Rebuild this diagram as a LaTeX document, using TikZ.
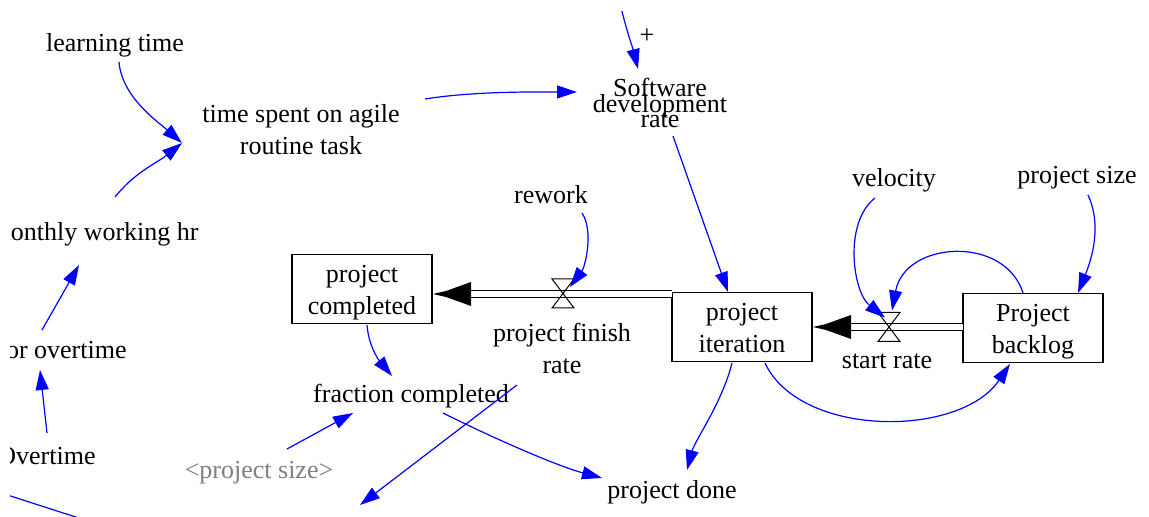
\documentclass[tikz,border=0pt]{standalone}
\usepackage{fontspec}
\setmainfont{Liberation Serif}
\usetikzlibrary{arrows.meta}
\definecolor{lk}{RGB}{0,0,255}
\definecolor{gr}{RGB}{128,128,128}
\newcommand\stkTop{\rule{0pt}{12.5pt}}
\newcommand\stkBot{\rule[-3pt]{0pt}{3pt}}
\begin{document}
\begin{tikzpicture}[x=0.5pt,y=-0.5pt,
  every node/.style={font=\fontsize{13}{16}\selectfont, inner sep=1pt, align=center},
  stock/.style={draw, line width=0.75pt, minimum width=70pt, minimum height=34.5pt},
  link/.style={draw=lk, line width=0.6pt, -{Triangle[length=10pt,width=6.5pt]}},
  plainlink/.style={draw=lk, line width=0.6pt},
  pipe/.style={draw=black, line width=0.65pt, double=white, double distance=2.7pt},
  flowhead/.style={fill=black},
  valve/.style={draw=black, line width=0.5pt}]
\useasboundingbox (0,0) rectangle (1149,517);
\clip (10,12) rectangle (1149,517);

% nodes
\node (lt) at (115,45) {learning time};
\node (ts) at (301,130) {time spent on agile\\routine task};
\node[anchor=east] (mw) at (201,234) {monthly working hr};
\node[anchor=east] (fo) at (129,349) {for overtime};
\node[anchor=east] (ov) at (98,456) {Overtime};
\node (sdr) at (660,103) {Software\\[-8.25pt]development\\[-8.25pt]rate};
\node (plus) at (647,36) {+};
\node (rw) at (551,195) {rework};
\node (vel) at (894,180) {velocity};
\node (ps) at (1077,178) {project size};
\node[stock] (pc) at (362,289) {\stkTop project\\completed\stkBot};
\node[stock] (pi) at (742,327) {\stkTop project\\iteration\stkBot};
\node[stock] (pb) at (1033,328) {\stkTop Project\\backlog\stkBot};
\node (pfr) at (562,348) {project finish\\rate};
\node (sr) at (887,361) {start rate};
\node (fc) at (411,396) {fraction completed};
\node (pd) at (672,492) {project done};
\node[text=gr] (pss) at (259,473) {<project size>};

\coordinate (v1) at (563,294);
\coordinate (v2) at (889,327.5);
\coordinate (topsrc) at (619,-2);
\coordinate (offb) at (360,505);
\coordinate (bl1) at (-5,491);
\coordinate (bl2) at (85,520);

% flows
\draw[pipe] ([shift={(-70,-33)}]pi.center) -- ([shift={(106,5)}]pc.center);
\fill[flowhead] ([shift={(71,5)}]pc.center) -- ++(13,-3) -- ++(25,-9) -- ++(0,24) -- ++(-25,-9) -- cycle;
\draw[valve] ([shift={(-11,-15)}]v1) -- ++(22,0) -- ([shift={(-11,14)}]v1) -- ++(22,0) -- cycle;

\draw[pipe] ([shift={(-70,-1)}]pb.center) -- ([shift={(108,0)}]pi.center);
\fill[flowhead] ([shift={(71,0)}]pi.center) -- ++(13,-3) -- ++(25,-9) -- ++(0,24) -- ++(-25,-9) -- cycle;
\draw[valve] ([shift={(-11,-15)}]v2) -- ++(22,0) -- ([shift={(-11,14)}]v2) -- ++(22,0) -- cycle;

% links
\draw[link] ([shift={(4,17)}]lt.center) .. controls +(3,35) and +(-25,-22) .. ([shift={(-119,13)}]ts.center);
\draw[link] ([shift={(-86,-37)}]mw.east) .. controls +(20,-25) and +(-25,20) .. ([shift={(-119,13)}]ts.center);
\draw[link] ([shift={(-87,-19)}]fo.east) -- ([shift={(-122,31)}]mw.east);
\draw[link] ([shift={(-51,-23)}]ov.east) -- ([shift={(-89,21)}]fo.east);
\draw[link] ([shift={(124,-31)}]ts.center) .. controls +(50,-8) and +(-40,0) .. ([shift={(-83,-11)}]sdr.center);
\draw[link] (topsrc) .. controls +(5,25) and +(-5,-20) .. ([shift={(-22,-34)}]sdr.center);
\draw[link] ([shift={(13,33)}]sdr.center) -- ([shift={(-14,-35)}]pi.center);
\draw[link] ([shift={(31,18)}]rw.center) .. controls +(12,18) and +(15,-20) .. ([shift={(7,-7)}]v1);
\draw[link] ([shift={(-19,18)}]vel.center) .. controls +(-32,25) and +(-32,-25) .. ([shift={(-4,-10)}]v2);
\draw[link] ([shift={(-10,-35)}]pb.center) .. controls +(-18,-58) and +(13,-70) .. ([shift={(3,-17)}]v2);
\draw[link] ([shift={(11,17)}]ps.center) .. controls +(14,30) and +(14,-35) .. ([shift={(45,-35)}]pb.center);
\draw[link] ([shift={(23,36)}]pi.center) .. controls +(35,75) and +(-50,74) .. ([shift={(-23,36)}]pb.center);
\draw[link] ([shift={(-10,36)}]pi.center) .. controls +(-10,40) and +(8,-30) .. ([shift={(15,-22)}]pd.center);
\draw[link] ([shift={(5,36)}]pc.center) .. controls +(2,25) and +(-10,-12) .. ([shift={(-19,-20)}]fc.center);
\draw[link] ([shift={(28,-24)}]pss.center) -- ([shift={(-58,17)}]fc.center);
\draw[link] ([shift={(32,17)}]fc.center) .. controls +(50,25) and +(-45,-12) .. ([shift={(-70,-14)}]pd.center);
\draw[link] ([shift={(-45,37)}]pfr.center) -- (offb);
\draw[plainlink] (bl1) -- (bl2);
\end{tikzpicture}
\end{document}
